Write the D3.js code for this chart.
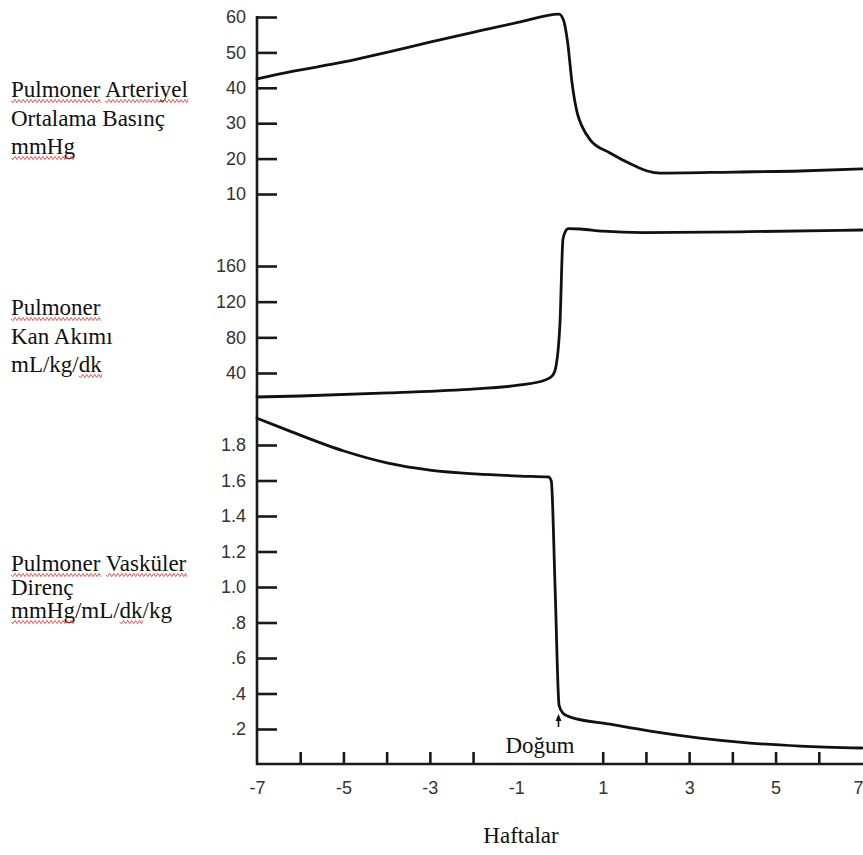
<!DOCTYPE html>
<html>
<head>
<meta charset="utf-8">
<script src="https://cdn.jsdelivr.net/npm/d3@7"></script>
<style>
  html, body { margin: 0; padding: 0; background: #fff; }
  svg { display: block; }
  .tick text { font-family: "Liberation Sans", Arial, sans-serif; font-size: 18px; fill: #333; }
  .lbl { font-family: "Liberation Serif", "Times New Roman", serif; font-size: 23px; fill: #111; }
</style>
</head>
<body>
<svg id="chart" width="863" height="855"></svg>
<script>
// Fetal / neonatal pulmonary haemodynamics around birth (weeks)

// Pulmonary arterial mean pressure, mmHg
const papWeeks  = [-7, -6.24, -4.99, -3.97, -3.0, -1.95, -0.91, -0.01, 0.09, 0.19, 0.29, 0.41, 0.53, 0.71, 1.17, 1.7, 2.03, 2.33, 4.02, 5.57, 7];
const papValues = [42.5, 44.5, 47.3, 50.1, 52.9, 55.8, 58.6, 60.8, 59.2, 52.7, 41.4, 32.9, 28.9, 25.3, 21.6, 18.2, 16.5, 15.9, 16.2, 16.5, 17.1];

// Pulmonary blood flow, mL/kg/min
const flowWeeks  = [-7, -6, -3.97, -1.95, -0.91, -0.33, -0.17, -0.1, 0.01, 0.08, 0.14, 0.2, 0.48, 1.0, 1.94, 4.41, 7];
const flowValues = [13.1, 14.2, 17.6, 22.1, 26.6, 32.2, 36.7, 43.4, 95, 190, 199, 202, 201.5, 199, 197.5, 198.5, 200.4];

// Pulmonary vascular resistance, mmHg/mL/min/kg
const pvrWeeks  = [-7, -6.24, -4.99, -3.97, -3.0, -1.95, -0.91, -0.26, -0.19, -0.1, -0.01, 0.08, 0.25, 1.17, 2.1, 3.25, 4.41, 5.57, 7];
const pvrValues = [1.951, 1.878, 1.766, 1.698, 1.659, 1.637, 1.625, 1.62, 1.597, 0.98, 0.334, 0.289, 0.267, 0.227, 0.188, 0.149, 0.121, 0.104, 0.093];

// Axis ticks
const papTicks  = [10, 20, 30, 40, 50, 60];
const flowTicks = [40, 80, 120, 160];
const pvrTicks  = [0.2, 0.4, 0.6, 0.8, 1.0, 1.2, 1.4, 1.6, 1.8];
const pvrTickLabels = [".2", ".4", ".6", ".8", "1.0", "1.2", "1.4", "1.6", "1.8"];
const weekMarks  = [-6, -5, -4, -3, -2, 1, 2, 3, 4, 5, 6];
const weekLabels = [-7, -5, -3, -1, 1, 3, 5, 7];

// Panel captions (words flagged for the spell-check squiggle)
const papCaption  = [[["Pulmoner", 1], ["Arteriyel", 1]], [["Ortalama", 0], ["Basınç", 0]], [["mmHg", 1]]];
const flowCaption = [[["Pulmoner", 1]], [["Kan", 0], ["Akımı", 0]], [["mL/kg/", 0], ["dk", 1]]];
const pvrCaption  = [[["Pulmoner", 1], ["Vasküler", 1]], [["Direnç", 0]], [["mmHg", 1], ["/mL/", 0], ["dk", 1], ["/kg", 0]]];
const xTitle = "Haftalar";
const birthLabel = "Doğum";

const svg = d3.select("#chart");
const axisX = 257, axisBottomY = 764;

const x = d3.scaleLinear().domain([-7, 7]).range([axisX, 862]);
const yPap  = d3.scaleLinear().domain([10, 60]).range([194, 17]);
const yFlow = d3.scaleLinear().domain([40, 160]).range([373, 266]);
const yPvr  = d3.scaleLinear().domain([0.2, 1.8]).range([729, 445]);

// Vertical and horizontal axis lines
svg.append("line").attr("x1", axisX).attr("x2", axisX).attr("y1", 16).attr("y2", axisBottomY + 1)
  .attr("stroke", "#1a1a1a").attr("stroke-width", 2.6);
svg.append("line").attr("x1", axisX - 1).attr("x2", 863).attr("y1", axisBottomY).attr("y2", axisBottomY)
  .attr("stroke", "#1a1a1a").attr("stroke-width", 2.6);

function leftAxis(scale, ticks, fmt) {
  const g = svg.append("g").attr("transform", `translate(${axisX},0)`)
    .call(d3.axisLeft(scale).tickValues(ticks).tickSize(-20).tickPadding(11).tickFormat(fmt));
  g.select(".domain").remove();
  g.selectAll(".tick line").attr("stroke", "#1a1a1a").attr("stroke-width", 2.6);
  return g;
}
leftAxis(yPap, papTicks, d3.format("d"));
leftAxis(yFlow, flowTicks, d3.format("d"));
leftAxis(yPvr, pvrTicks, (d, i) => pvrTickLabels[i]);

// Week tick marks point up into the plot; labels sit below
const gMarks = svg.append("g").attr("transform", `translate(0,${axisBottomY})`)
  .call(d3.axisTop(x).tickValues(weekMarks).tickSize(12).tickFormat(""));
gMarks.select(".domain").remove();
gMarks.selectAll(".tick line").attr("stroke", "#1a1a1a").attr("stroke-width", 2.6);

const gLabels = svg.append("g").attr("transform", `translate(0,${axisBottomY})`)
  .call(d3.axisBottom(x).tickValues(weekLabels).tickSize(0).tickPadding(17).tickFormat(d => String(d)));
gLabels.select(".domain").remove();
// keep the last label inside the page edge
gLabels.selectAll(".tick").filter(d => d === 7).select("text")
  .attr("text-anchor", "end").attr("x", 863 - x(7));

// Curves
function curve(weeks, values, yScale) {
  const pts = weeks.map((w, i) => [w, values[i]]);
  const line = d3.line().x(d => x(d[0])).y(d => yScale(d[1])).curve(d3.curveMonotoneX);
  svg.append("path").attr("d", line(pts)).attr("fill", "none")
    .attr("stroke", "#111").attr("stroke-width", 2.8)
    .attr("stroke-linejoin", "round").attr("stroke-linecap", "round");
}
curve(papWeeks, papValues, yPap);
curve(flowWeeks, flowValues, yFlow);
curve(pvrWeeks, pvrValues, yPvr);

// Captions with wavy underlines
function squiggle(x0, x1, y) {
  let d = `M${x0},${y}`;
  for (let px = x0, k = 0; px < x1; px += 2, k++) {
    d += `L${Math.min(px + 2, x1)},${y + (k % 2 === 0 ? 1.6 : -1.6)}`;
  }
  return d;
}
function caption(lines, left, baselines) {
  lines.forEach((words, li) => {
    const t = svg.append("text").attr("class", "lbl").attr("x", left).attr("y", baselines[li]);
    let text = "";
    const spans = [];
    words.forEach(([w, flag], wi) => {
      const sep = (wi > 0 && !w.startsWith("/") && !text.endsWith("/")) ? " " : "";
      text += sep;
      spans.push([text.length, w.length, flag]);
      text += w;
    });
    t.text(text);
    const node = t.node();
    spans.forEach(([start, len, flag]) => {
      if (!flag) return;
      const x0 = node.getStartPositionOfChar(start).x;
      const w = node.getSubStringLength(start, len);
      svg.append("path").attr("d", squiggle(x0, x0 + w, baselines[li] + 4))
        .attr("fill", "none").attr("stroke", "#e03a3a").attr("stroke-width", 1).attr("opacity", 0.85);
    });
  });
}
caption(papCaption, 11, [97, 125.5, 154]);
caption(flowCaption, 11, [315, 343.5, 372]);
caption(pvrCaption, 11, [571, 594.5, 618]);

// Birth marker
const bx = x(0) - 1;
svg.append("path").attr("d", `M${bx},${714} l-3,7 l6,0 z`).attr("fill", "#111");
svg.append("line").attr("x1", bx).attr("x2", bx).attr("y1", 719).attr("y2", 727)
  .attr("stroke", "#111").attr("stroke-width", 1.6);
svg.append("text").attr("class", "lbl").attr("x", 540).attr("y", 753)
  .attr("text-anchor", "middle").text(birthLabel);

// X-axis title
svg.append("text").attr("class", "lbl").attr("x", 521).attr("y", 843)
  .attr("text-anchor", "middle").text(xTitle);
</script>
</body>
</html>
